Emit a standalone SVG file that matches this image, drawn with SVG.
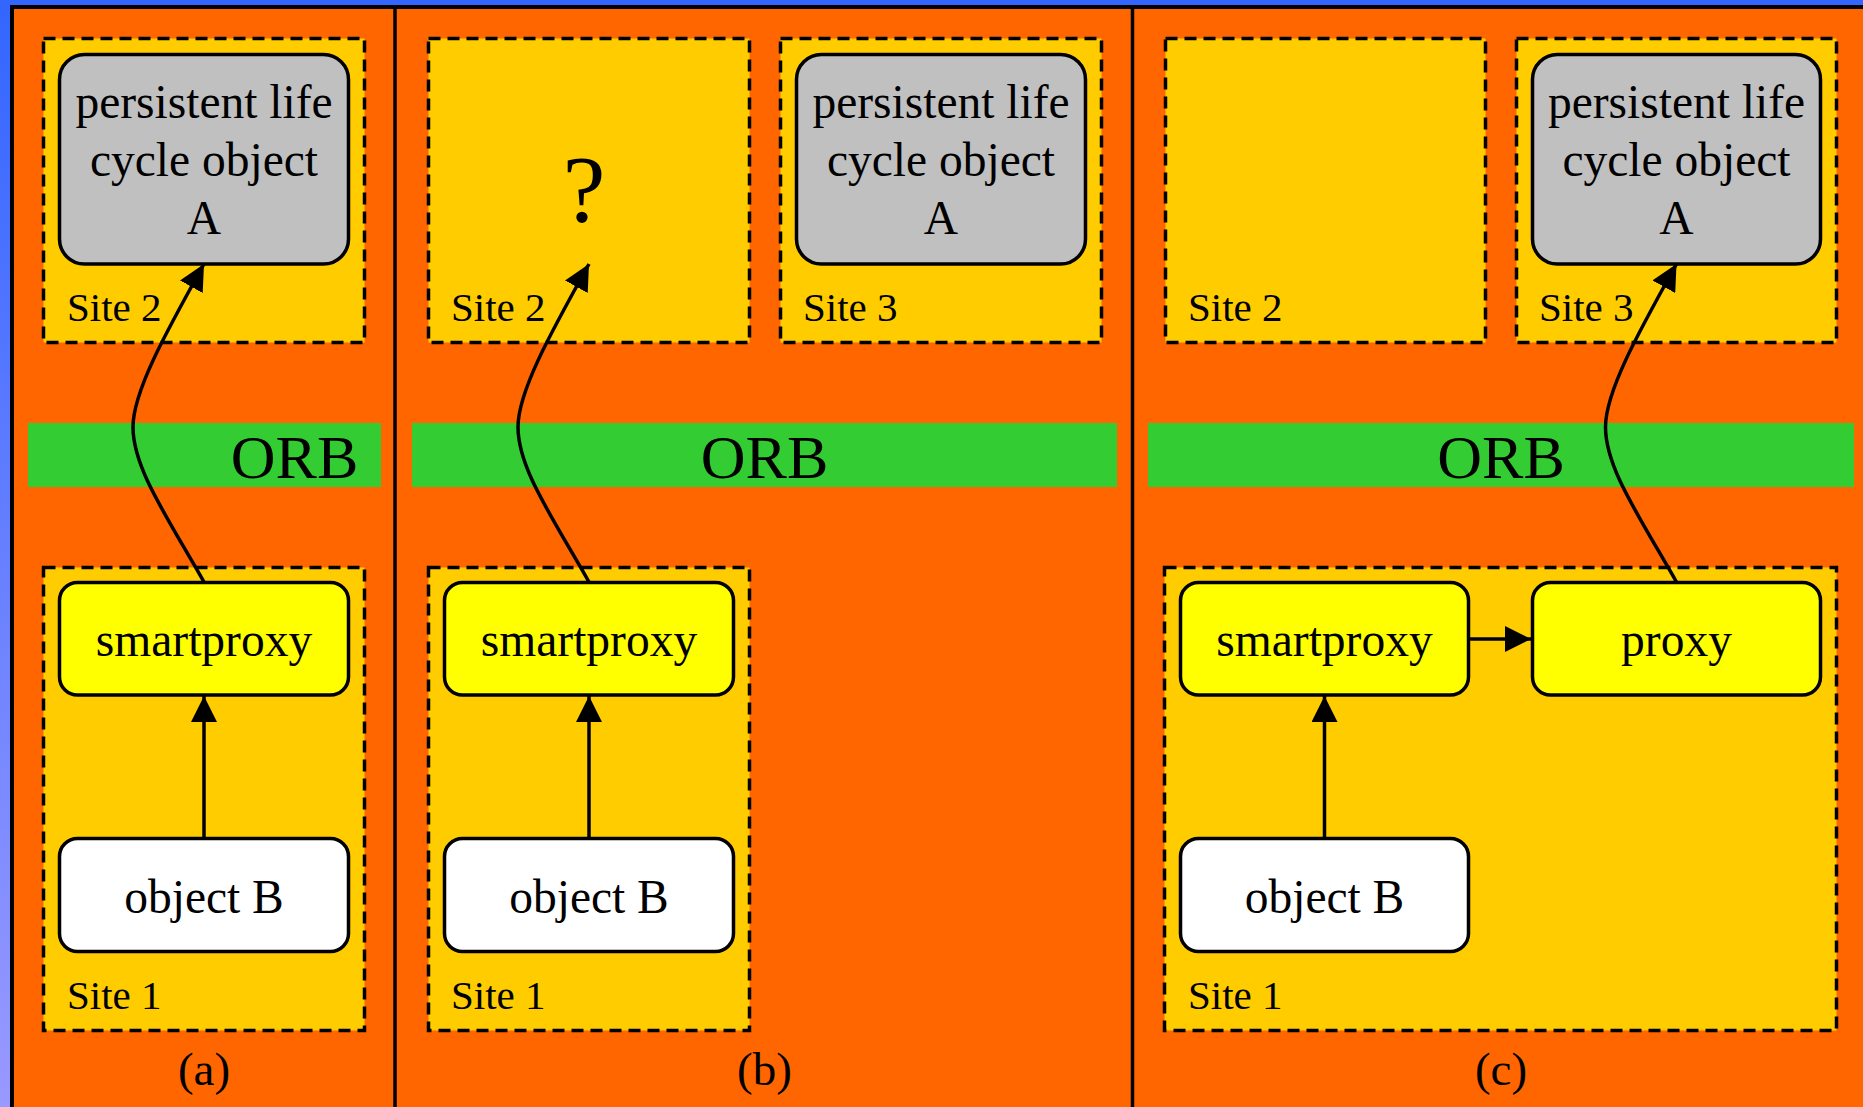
<svg xmlns="http://www.w3.org/2000/svg" width="1863" height="1107" viewBox="0 0 1863 1107">
  <defs>
    <linearGradient id="bg" x1="0" y1="0" x2="0" y2="1">
      <stop offset="0" stop-color="#3366ff"/>
      <stop offset="1" stop-color="#9999ff"/>
    </linearGradient>
    <marker id="arrow" markerUnits="userSpaceOnUse" markerWidth="26" markerHeight="26" viewBox="0 0 26 26" refX="26" refY="13" orient="auto">
      <path d="M0,0 L26,13 L0,26 Z" fill="#000"/>
    </marker>
  </defs>
  <style>
    .panel { fill: #ff6600; stroke: #000; stroke-width: 4; }
    .divider { stroke: #000; stroke-width: 3.5; }
    .site { fill: #ffcc00; stroke: #000; stroke-width: 3.5; stroke-dasharray: 12 7; }
    .orb { fill: #33cc33; }
    .gray { fill: #c0c0c0; stroke: #000; stroke-width: 3.5; }
    .yellow { fill: #ffff00; stroke: #000; stroke-width: 3.5; }
    .white { fill: #ffffff; stroke: #000; stroke-width: 3.5; }
    .t { font-family: "Liberation Serif", "Times New Roman", serif; fill: #000; }
    .node { font-size: 47.5px; text-anchor: middle; }
    .lbl { font-size: 41px; }
    .orbt { font-size: 62px; text-anchor: middle; }
    .cap { font-size: 47px; text-anchor: middle; }
    .q { font-size: 96px; text-anchor: middle; }
    .conn { fill: none; stroke: #000; stroke-width: 3.5; marker-end: url(#arrow); }
  </style>

  <rect x="0" y="0" width="1863" height="1107" fill="url(#bg)"/>
  <rect class="panel" x="12" y="7" width="1870" height="1120"/>
  <line class="divider" x1="395" y1="7" x2="395" y2="1107"/>
  <line class="divider" x1="1132.5" y1="7" x2="1132.5" y2="1107"/>

  <!-- Panel (a) -->
  <g id="a-site2"><rect class="site" x="43.5" y="38.5" width="321" height="304"/><text class="t lbl" x="67" y="321">Site 2</text></g>
  <g id="a-site1"><rect class="site" x="43.5" y="567.5" width="321" height="463"/><text class="t lbl" x="67" y="1009">Site 1</text></g>
  <g id="a-orb"><rect class="orb" x="28" y="423" width="353" height="64"/><text class="t orbt" x="294.5" y="478">ORB</text></g>
  <g id="a-objA"><rect class="gray" x="59.5" y="54.5" width="289" height="209.5" rx="25"/>
    <text class="t node" x="204" y="118">persistent life</text><text class="t node" x="204" y="176">cycle object</text><text class="t node" x="204" y="234">A</text></g>
  <g id="a-smartproxy"><rect class="yellow" x="59.5" y="582.5" width="289" height="112.5" rx="18"/><text class="t node" x="204" y="656">smartproxy</text></g>
  <g id="a-objB"><rect class="white" x="59.5" y="838.5" width="289" height="113" rx="18"/><text class="t node" x="204" y="913">object B</text></g>
  <text class="t cap" x="204" y="1085">(a)</text>

  <!-- Panel (b) -->
  <g id="b-site2"><rect class="site" x="428.5" y="38.5" width="321" height="304"/><text class="t lbl" x="451" y="321">Site 2</text><text class="t q" x="584" y="222">?</text></g>
  <g id="b-site3"><rect class="site" x="780.5" y="38.5" width="321" height="304"/><text class="t lbl" x="803" y="321">Site 3</text></g>
  <g id="b-site1"><rect class="site" x="428.5" y="567.5" width="321" height="463"/><text class="t lbl" x="451" y="1009">Site 1</text></g>
  <g id="b-orb"><rect class="orb" x="412" y="423" width="705" height="64"/><text class="t orbt" x="764.5" y="478">ORB</text></g>
  <g id="b-objA"><rect class="gray" x="796.5" y="54.5" width="289" height="209.5" rx="25"/>
    <text class="t node" x="941" y="118">persistent life</text><text class="t node" x="941" y="176">cycle object</text><text class="t node" x="941" y="234">A</text></g>
  <g id="b-smartproxy"><rect class="yellow" x="444.5" y="582.5" width="289" height="112.5" rx="18"/><text class="t node" x="589" y="656">smartproxy</text></g>
  <g id="b-objB"><rect class="white" x="444.5" y="838.5" width="289" height="113" rx="18"/><text class="t node" x="589" y="913">object B</text></g>
  <text class="t cap" x="764.5" y="1085">(b)</text>

  <!-- Panel (c) -->
  <g id="c-site2"><rect class="site" x="1165.5" y="38.5" width="320" height="304"/><text class="t lbl" x="1188" y="321">Site 2</text></g>
  <g id="c-site3"><rect class="site" x="1516.5" y="38.5" width="320" height="304"/><text class="t lbl" x="1539" y="321">Site 3</text></g>
  <g id="c-site1"><rect class="site" x="1164.5" y="567.5" width="672" height="463"/><text class="t lbl" x="1188" y="1009">Site 1</text></g>
  <g id="c-orb"><rect class="orb" x="1148" y="423" width="706" height="64"/><text class="t orbt" x="1501" y="478">ORB</text></g>
  <g id="c-objA"><rect class="gray" x="1532.5" y="54.5" width="288" height="209.5" rx="25"/>
    <text class="t node" x="1676.5" y="118">persistent life</text><text class="t node" x="1676.5" y="176">cycle object</text><text class="t node" x="1676.5" y="234">A</text></g>
  <g id="c-smartproxy"><rect class="yellow" x="1180.5" y="582.5" width="288" height="112.5" rx="18"/><text class="t node" x="1324.5" y="656">smartproxy</text></g>
  <g id="c-proxy"><rect class="yellow" x="1532.5" y="582.5" width="288" height="112.5" rx="18"/><text class="t node" x="1676.5" y="656">proxy</text></g>
  <g id="c-objB"><rect class="white" x="1180.5" y="838.5" width="288" height="113" rx="18"/><text class="t node" x="1324.5" y="913">object B</text></g>
  <text class="t cap" x="1501" y="1085">(c)</text>

  <!-- Connectors -->
  <g id="connectors">
    <path class="conn" d="M204,582 C164,512 133,467 133,427 C133,392 165,334 204,264"/>
    <line class="conn" x1="204" y1="838" x2="204" y2="696"/>
    <path class="conn" d="M589,582 C549,512 518,467 518,427 C518,392 550,334 589,264"/>
    <line class="conn" x1="589" y1="838" x2="589" y2="696"/>
    <path class="conn" d="M1676.5,582 C1636.5,512 1605.5,467 1605.5,427 C1605.5,392 1637.5,334 1676.5,264"/>
    <line class="conn" x1="1324.5" y1="838" x2="1324.5" y2="696"/>
    <line class="conn" x1="1469" y1="639" x2="1531" y2="639"/>
  </g>
</svg>
